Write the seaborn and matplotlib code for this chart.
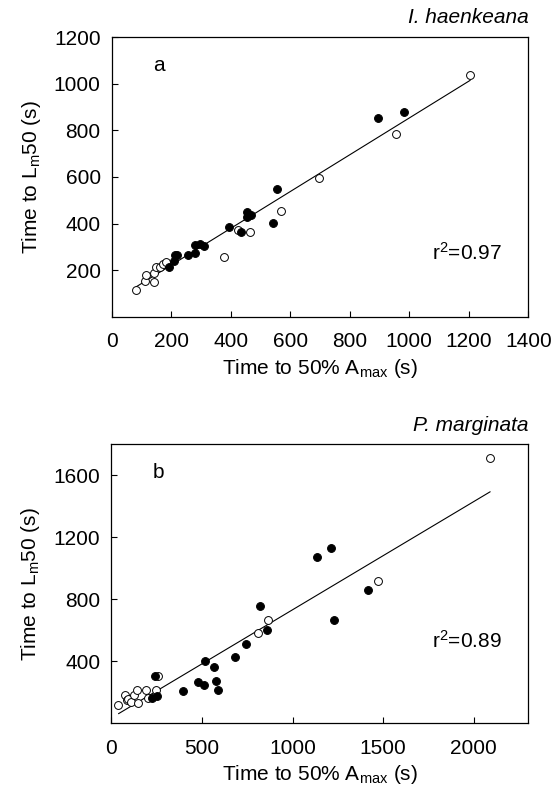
import numpy as np
import pandas as pd
import matplotlib
matplotlib.use("Agg")
import matplotlib.pyplot as plt
import seaborn as sns

# panel a : I. haenkeana
a_open_x = [82, 110, 115, 143, 143, 147, 163, 172, 183, 377, 425, 464, 569, 698, 955, 1205]
a_open_y = [114, 153, 178, 149, 186, 215, 215, 225, 236, 258, 372, 365, 455, 596, 782, 1037]
a_fill_x = [191, 208, 211, 218, 256, 279, 281, 295, 310, 394, 433, 453, 453, 468, 541, 554, 895, 983]
a_fill_y = [212, 239, 264, 265, 264, 275, 308, 312, 304, 385, 365, 448, 427, 435, 404, 550, 852, 878]

# panel b : P. marginata
b_open_x = [40, 75, 85, 95, 110, 125, 140, 150, 190, 200, 245, 260, 810, 865, 1470, 2090]
b_open_y = [120, 185, 150, 160, 140, 185, 215, 130, 215, 165, 215, 305, 580, 670, 920, 1715]
b_fill_x = [243, 227, 250, 396, 481, 510, 516, 566, 578, 588, 685, 742, 818, 858, 1137, 1210, 1230, 1414]
b_fill_y = [303, 166, 177, 211, 269, 246, 404, 361, 275, 217, 428, 511, 756, 601, 1071, 1131, 668, 861]

sns.set_style("ticks")
plt.rcParams['font.family'] = ['Liberation Sans', 'DejaVu Sans']
plt.rcParams['mathtext.default'] = 'regular'
plt.rcParams['xtick.direction'] = 'in'
plt.rcParams['ytick.direction'] = 'in'
plt.rcParams['text.color'] = 'black'
plt.rcParams['axes.labelcolor'] = 'black'
plt.rcParams['xtick.color'] = 'black'
plt.rcParams['ytick.color'] = 'black'

fig = plt.figure(figsize=(5.59, 7.88), dpi=100)
ax1 = fig.add_axes([0.2, 0.598, 0.745, 0.355])
ax2 = fig.add_axes([0.199, 0.082, 0.746, 0.354])


def panel(ax, ox, oy, fx, fy, xlim, ylim, xticks, yticks, letter, r2, species):
    df = pd.DataFrame({"x": ox + fx, "y": oy + fy})
    sns.regplot(data=df, x="x", y="y", ax=ax, scatter=False, ci=None,
                line_kws={"color": "black", "lw": 0.8})
    sns.scatterplot(x=ox, y=oy, ax=ax, s=32, color="white", edgecolor="black",
                    linewidth=0.7, zorder=3)
    sns.scatterplot(x=fx, y=fy, ax=ax, s=32, color="black", edgecolor="black",
                    linewidth=0.7, zorder=3)
    ax.set_xlim(xlim)
    ax.set_ylim(ylim)
    ax.set_xticks(xticks)
    ax.set_yticks(yticks)
    ax.tick_params(labelsize=15, length=4, width=0.8)
    ax.tick_params(axis="x", pad=11)
    ax.tick_params(axis="y", pad=8)
    for s in ax.spines.values():
        s.set_linewidth(0.9)
        s.set_color("black")
        s.set_visible(True)
    ax.set_xlabel("Time to 50% A$_{max}$ (s)", fontsize=15, labelpad=4)
    ax.set_ylabel("Time to L$_m$50 (s)", fontsize=15, labelpad=8)
    ax.text(0.1, 0.9, letter, transform=ax.transAxes, fontsize=15, va="center")
    ax.text(0.77, r2[1], r2[0], transform=ax.transAxes, fontsize=15, va="center")
    ax.text(1.0, 1.035, species, transform=ax.transAxes, fontsize=15,
            style="italic", ha="right", va="bottom")


panel(ax1, a_open_x, a_open_y, a_fill_x, a_fill_y, (0, 1400), (0, 1200),
      range(0, 1401, 200), range(200, 1201, 200), "a", ("r$^2$=0.97", 0.23), "I. haenkeana")
panel(ax2, b_open_x, b_open_y, b_fill_x, b_fill_y, (0, 2300), (0, 1800),
      range(0, 2001, 500), range(400, 1601, 400), "b", ("r$^2$=0.89", 0.295), "P. marginata")

fig.savefig("out.png", dpi=100)
